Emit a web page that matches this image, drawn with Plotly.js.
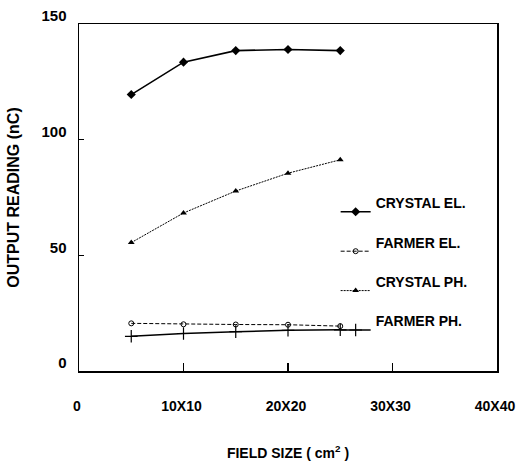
<!DOCTYPE html>
<html>
<head>
<meta charset="utf-8">
<script src="https://cdn.plot.ly/plotly-3.0.1.min.js"></script>
<style>html,body{margin:0;padding:0;background:#fff;}#chart{width:516px;height:469px;}</style>
</head>
<body>
<div id="chart"></div>
<script>
// Field sizes (side of square field, cm)
const fieldSize = [5, 10, 15, 20, 25];
const crystalEl = [119.5, 133.5, 138.5, 139, 138.5];
const farmerEl  = [20.6, 20.2, 20.1, 20.0, 19.4];
const crystalPh = [55.5, 68.3, 77.8, 85.5, 91.3];
const farmerPh  = [15.0, 16.2, 17.0, 17.6, 17.8];
const xTickVals = [0, 10, 20, 30, 40];
const xTickText = ['0', '10X10', '20X20', '30X30', '40X40'];
const yTickVals = [0, 50, 100, 150];

const FONT = 'Liberation Sans, Arial, sans-serif';

const traces = [
  {x: fieldSize, y: crystalEl, name: 'CRYSTAL EL.<br>\u00a0', mode: 'lines+markers',
   line: {color: '#000', width: 1.6, dash: 'solid'},
   marker: {symbol: 'diamond', size: 7, color: '#000'}},
  {x: fieldSize, y: farmerEl, name: 'FARMER EL.<br>\u00a0', mode: 'lines+markers',
   line: {color: '#000', width: 1, dash: '4px,2px'},
   marker: {symbol: 'circle-open', size: 5, color: '#000', line: {width: 1, color: '#000'}}},
  {x: fieldSize, y: crystalPh, name: 'CRYSTAL PH.<br>\u00a0', mode: 'lines+markers',
   line: {color: '#000', width: 1, dash: '2px,1px'},
   marker: {symbol: 'triangle-up', size: 6, color: '#000'}},
  {x: fieldSize, y: farmerPh, name: 'FARMER PH.<br>\u00a0', mode: 'lines+markers',
   line: {color: '#000', width: 1.5, dash: 'solid'},
   marker: {symbol: 'cross-thin-open', size: 9, color: '#000', line: {width: 1.2, color: '#000'}}}
];

const layout = {
  width: 516, height: 469,
  margin: {l: 79, r: 19, t: 24, b: 98},
  paper_bgcolor: '#fff', plot_bgcolor: '#fff',
  showlegend: true,
  legend: {x: 0.614, y: 0.53, xanchor: 'left', yanchor: 'top', bgcolor: 'rgba(0,0,0,0)',
           font: {family: FONT, size: 14, color: '#000', weight: 'bold'}, valign: 'middle',
           itemwidth: 30, tracegroupgap: 0},
  xaxis: {
    range: [0, 40], tickmode: 'array', tickvals: xTickVals, ticktext: xTickText,
    ticks: 'inside', ticklen: 8, tickwidth: 1.5, tickcolor: '#000',
    showline: true, linecolor: '#000', linewidth: 1.5, mirror: true,
    showgrid: false, zeroline: false, ticklabelstandoff: 22, ticklabeloverflow: 'allow',
    ticklabelshift: -2,
    tickfont: {family: FONT, size: 14, color: '#000', weight: 'bold'},
    title: {text: 'FIELD SIZE ( cm<sup>2</sup> )', standoff: 35,
            font: {family: FONT, size: 14, color: '#000', weight: 'bold'}}
  },
  yaxis: {
    range: [0, 150], tickmode: 'array', tickvals: yTickVals,
    ticks: 'inside', ticklen: 5, tickwidth: 1.5, tickcolor: '#000',
    showline: true, linecolor: '#000', linewidth: 1.5, mirror: true,
    showgrid: false, zeroline: false, ticklabelstandoff: 8, ticklabelshift: -8,
    tickfont: {family: FONT, size: 15, color: '#000', weight: 'bold'},
    title: {text: 'OUTPUT READING (nC)', standoff: 18,
            font: {family: FONT, size: 16, color: '#000', weight: 'bold'}}
  }
};

Plotly.newPlot('chart', traces, layout, {displayModeBar: false, staticPlot: true});
</script>
</body>
</html>
